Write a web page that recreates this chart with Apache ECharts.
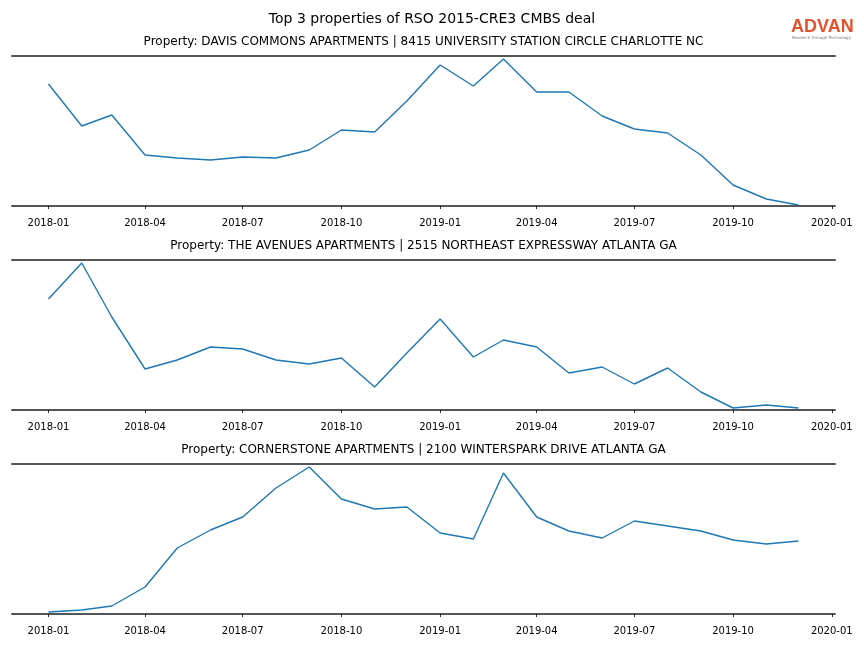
<!DOCTYPE html>
<html>
<head>
<meta charset="utf-8">
<script src="https://cdn.jsdelivr.net/npm/echarts@6/dist/echarts.min.js"></script>
<style>html,body{margin:0;padding:0;background:#fff}#c{width:864px;height:648px}</style>
</head>
<body>
<div id="c"></div>
<script>
const months = ['2018-01','2018-02','2018-03','2018-04','2018-05','2018-06','2018-07','2018-08','2018-09','2018-10','2018-11','2018-12',
                '2019-01','2019-02','2019-03','2019-04','2019-05','2019-06','2019-07','2019-08','2019-09','2019-10','2019-11','2019-12'];
const tickLabels = ['2018-01','2018-04','2018-07','2018-10','2019-01','2019-04','2019-07','2019-10','2020-01'];
const mainTitle = 'Top 3 properties of RSO 2015-CRE3 CMBS deal';
const panelTitles = [
  'Property: DAVIS COMMONS APARTMENTS | 8415 UNIVERSITY STATION CIRCLE CHARLOTTE NC',
  'Property: THE AVENUES APARTMENTS | 2515 NORTHEAST EXPRESSWAY ATLANTA GA',
  'Property: CORNERSTONE APARTMENTS | 2100 WINTERSPARK DRIVE ATLANTA GA'
];
const davisCommons = [122,80,91,51,48,46,49,48,56,76,74,105,141,120,147,114,114,90,77,73,51,21,7,1];
const theAvenues = [111,147,93,41,50,63,61,50,46,52,23,57,91,53,70,63,37,43,26,42,18,2,5,2];
const cornerstone = [2,4,8,27,66,84,97,126,147,115,105,107,81,75,141,97,83,76,93,88,83,74,70,73];
const seriesValues = [davisCommons, theAvenues, cornerstone];

function ts(s){ const p = s.split('-'); return Date.UTC(+p[0], +p[1]-1, p[2] ? +p[2] : 1); }
const xMin = ts('2017-11-28');
const xMax = ts('2020-01-04');
const tickTs = tickLabels.map(ts);
function fmt(v){ const d = new Date(v); return d.getUTCFullYear() + '-' + String(d.getUTCMonth()+1).padStart(2,'0'); }

const tops = [56, 260, 464];
const gridH = 150;
const gridLeft = 12, gridRight = 29;
const FONT = 'DejaVu Sans';
const spine = {show:true, lineStyle:{color:'#555', width:2}};

const grids = [], xAxes = [], yAxes = [], series = [], graphics = [];
const axesCenter = (gridLeft + (864 - gridRight)) / 2;
tops.forEach((t, i) => {
  grids.push({left: gridLeft, right: gridRight, top: t, height: gridH, containLabel: false});
  xAxes.push({type:'value', gridIndex:i, position:'bottom', min:xMin, max:xMax, offset:5, scale:true,
    axisLine:{show:false}, splitLine:{show:false},
    axisTick:{show:true, length:3, customValues: tickTs, lineStyle:{color:'#000', width:0.8}},
    axisLabel:{show:true, customValues: tickTs, formatter: fmt, color:'#000', fontSize:10, fontFamily:FONT, margin:7, hideOverlap:false}
  });
  xAxes.push({type:'value', gridIndex:i, position:'bottom', min:xMin, max:xMax, scale:true,
    axisLine: spine, axisTick:{show:false}, axisLabel:{show:false}, splitLine:{show:false}});
  xAxes.push({type:'value', gridIndex:i, position:'top', min:xMin, max:xMax, scale:true,
    axisLine: spine, axisTick:{show:false}, axisLabel:{show:false}, splitLine:{show:false}});
  yAxes.push({type:'value', gridIndex:i, min:0, max:150, show:false, splitLine:{show:false}});
  series.push({type:'line', xAxisIndex:i*3, yAxisIndex:i, symbol:'none', animation:false,
    lineStyle:{color:'#1f77b4', width:1.4}, itemStyle:{color:'#1f77b4'},
    data: months.map((m, k) => [ts(m), seriesValues[i][k]])});
  graphics.push({type:'text', x: axesCenter, y: t - 14,
    style:{text: panelTitles[i], fill:'#000', font:'12px "DejaVu Sans"', textAlign:'center', textVerticalAlign:'middle'}});
});
graphics.push({type:'text', x: 432, y: 19,
  style:{text: mainTitle, fill:'#000', font:'14px "DejaVu Sans"', textAlign:'center', textVerticalAlign:'middle'}});
graphics.push({type:'text', left: 791, top: 18, style:{text:'ADVAN', fill:'#e0532c', font:'bold 18px "Liberation Sans"'}});
graphics.push({type:'text', left: 792, top: 36, style:{text:'Research through Technology', fill:'#777', font:'4px "DejaVu Sans"'}});

const chart = echarts.init(document.getElementById('c'), null, {renderer:'canvas'});
chart.setOption({
  animation:false,
  backgroundColor:'#fff',
  grid: grids, xAxis: xAxes, yAxis: yAxes, series: series,
  graphic: graphics
});
</script>
</body>
</html>
